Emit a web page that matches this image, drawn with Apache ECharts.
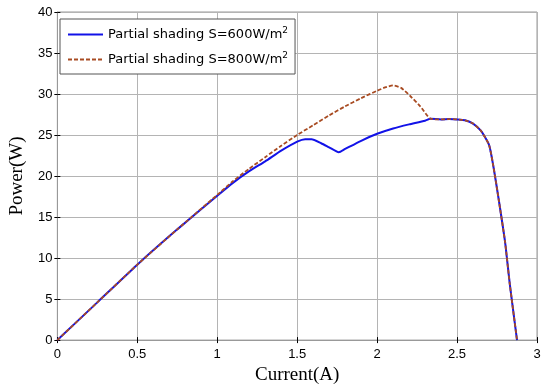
<!DOCTYPE html>
<html>
<head>
<meta charset="utf-8">
<script src="https://cdn.jsdelivr.net/npm/echarts@6/dist/echarts.min.js"></script>
<style>html,body{margin:0;padding:0;background:#fff}#c{width:550px;height:390px}</style>
</head>
<body>
<div id="c"></div>
<script>
// Series names
const seriesNames = ['Partial shading S=600W/m2', 'Partial shading S=800W/m2'];

// S=600 W/m2 curve (current A, power W)
const x600 = [0, 0.25, 0.5, 0.75, 1.0, 1.1, 1.2, 1.3, 1.4, 1.5, 1.55, 1.59, 1.65, 1.7, 1.76, 1.8, 1.9, 2.0, 2.1, 2.2, 2.3, 2.333, 2.4, 2.45, 2.5, 2.55, 2.6, 2.65, 2.7, 2.727, 2.76, 2.8, 2.83, 2.875];
const p600 = [0, 4.6, 9.2, 13.5, 17.6, 19.2, 20.6, 21.8, 23.1, 24.2, 24.5, 24.5, 24.0, 23.5, 22.9, 23.3, 24.3, 25.15, 25.8, 26.3, 26.75, 27.0, 26.9, 26.95, 26.9, 26.8, 26.4, 25.5, 23.8, 21.2, 17.2, 12.0, 6.8, 0];

// S=800 W/m2 curve
const x800 = [0, 0.25, 0.5, 0.75, 1.0, 1.1, 1.2, 1.3, 1.4, 1.5, 1.6, 1.7, 1.8, 1.9, 2.0, 2.05, 2.1, 2.15, 2.21, 2.27, 2.333, 2.4, 2.45, 2.5, 2.55, 2.6, 2.65, 2.7, 2.727, 2.76, 2.8, 2.83, 2.875];
const p800 = [0, 4.6, 9.2, 13.5, 17.7, 19.4, 20.9, 22.3, 23.7, 25.0, 26.2, 27.4, 28.5, 29.5, 30.4, 30.8, 31.05, 30.75, 29.7, 28.5, 27.0, 26.9, 26.95, 26.9, 26.8, 26.4, 25.5, 23.8, 21.2, 17.2, 12.0, 6.8, 0];

// Axis settings
const xTicks = {min: 0, max: 3, interval: 0.5};
const yTicks = {min: 0, max: 40, interval: 5};

const pairs = (xs, ys) => xs.map((x, i) => [x, ys[i]]);

const chart = echarts.init(document.getElementById('c'), null, {renderer: 'canvas'});
const labelFont = {color: '#000', fontSize: 13, fontFamily: 'Liberation Sans, Arial, sans-serif'};
const serif = 'Liberation Serif, Times New Roman, serif';
const gridColor = '#b4b4b4';

chart.setOption({
  animation: false,
  backgroundColor: '#fff',
  grid: {left: 55, right: 13, top: 12, bottom: 48, show: true, borderColor: '#999', borderWidth: 1},
  legend: {
    orient: 'vertical', left: 60, top: 19,
    backgroundColor: '#fff', borderColor: '#555', borderWidth: 1,
    padding: [7, 7, 8, 7], itemGap: 10, itemWidth: 35, itemHeight: 14,
    itemStyle: {color: 'rgba(0,0,0,0)', borderColor: 'rgba(0,0,0,0)', borderWidth: 0, opacity: 0},
    data: seriesNames,
    formatter: n => n.replace('m2', 'm{sup|2}'),
    textStyle: {
      color: '#000', fontSize: 13, fontFamily: 'DejaVu Sans, sans-serif',
      rich: {sup: {fontSize: 9, verticalAlign: 'top', padding: [0, 0, 8, 0], fontFamily: 'DejaVu Sans, sans-serif'}}
    }
  },
  xAxis: [{
    type: 'value', min: xTicks.min, max: xTicks.max, interval: xTicks.interval,
    name: 'Current(A)', nameLocation: 'middle', nameGap: 25,
    nameTextStyle: {color: '#000', fontSize: 19, fontFamily: serif},
    axisLine: {show: true, lineStyle: {color: '#999'}},
    axisTick: {show: true, inside: true, length: 3, lineStyle: {color: '#000'}},
    axisLabel: Object.assign({margin: 8, formatter: v => String(v)}, labelFont),
    splitLine: {show: true, lineStyle: {color: gridColor, width: 1}}
  }, {
    type: 'value', position: 'top', min: xTicks.min, max: xTicks.max, interval: xTicks.interval,
    axisLine: {show: false}, axisLabel: {show: false}, splitLine: {show: false},
    axisTick: {show: true, inside: true, length: 3, lineStyle: {color: '#000'}}
  }],
  yAxis: [{
    type: 'value', min: yTicks.min, max: yTicks.max, interval: yTicks.interval,
    name: 'Power(W)', nameLocation: 'middle', nameGap: 25,
    nameTextStyle: {color: '#000', fontSize: 19, fontFamily: serif},
    axisLine: {show: true, lineStyle: {color: '#999'}},
    axisTick: {show: true, inside: true, length: 3, lineStyle: {color: '#000'}},
    axisLabel: Object.assign({margin: 5}, labelFont),
    splitLine: {show: true, lineStyle: {color: gridColor, width: 1}}
  }, {
    type: 'value', position: 'right', min: yTicks.min, max: yTicks.max, interval: yTicks.interval,
    axisLine: {show: false}, axisLabel: {show: false}, splitLine: {show: false},
    axisTick: {show: true, inside: true, length: 3, lineStyle: {color: '#000'}}
  }],
  series: [{
    name: seriesNames[0], type: 'line', showSymbol: false, symbol: 'none', smooth: 0.2,
    data: pairs(x600, p600),
    lineStyle: {color: '#1212e8', width: 2},
    itemStyle: {color: '#1212e8'}
  }, {
    name: seriesNames[1], type: 'line', showSymbol: false, symbol: 'none', smooth: 0.2,
    data: pairs(x800, p800), z: 3,
    lineStyle: {color: '#a84b22', width: 1.8, type: [4, 2]},
    itemStyle: {color: '#a84b22'}
  }]
});
</script>
</body>
</html>
